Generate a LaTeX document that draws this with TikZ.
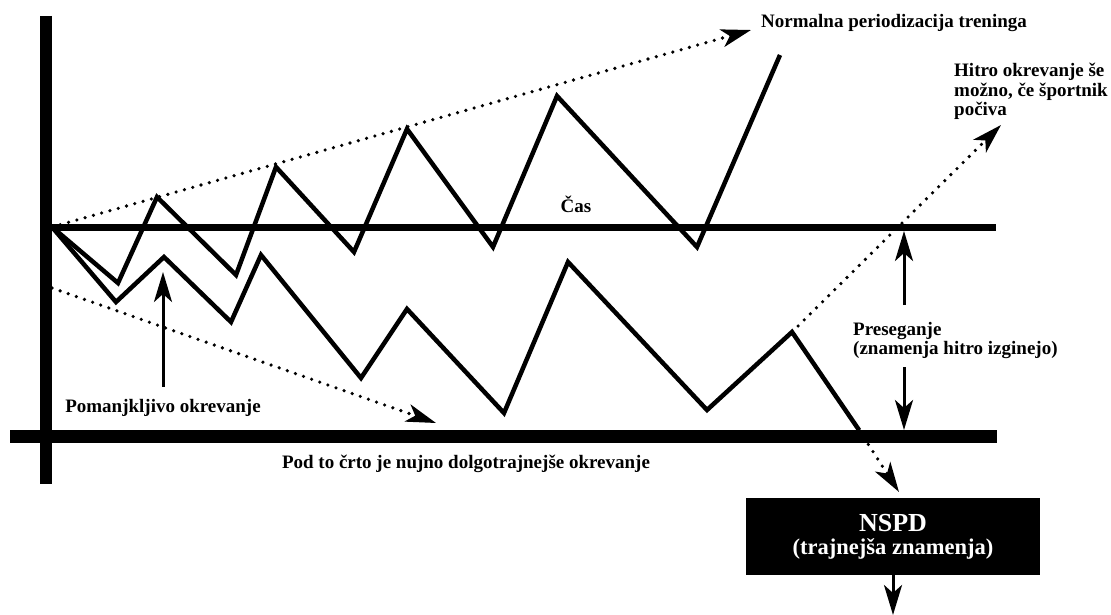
\documentclass[tikz,border=0pt]{standalone}
\usepackage{fontspec}
\setmainfont{Liberation Serif}
\usetikzlibrary{arrows.meta}

\begin{document}
\begin{tikzpicture}[x=1pt,y=-1pt,
        txt/.style={font=\bfseries\fontsize{19}{19.5}\selectfont,inner sep=0pt},
        zig/.style={line width=4.5pt},
        dots/.style={line width=3.6pt,line cap=round,dash pattern=on 0pt off 8.6pt},
        tip/.style={-{Stealth[length=30pt,width=18pt,inset=8pt]}},
        shaft/.style={line width=3pt,tip}]

    \useasboundingbox (0,0) rectangle (1111,615);

    \coordinate (o) at (52,227);
    \coordinate (o2) at (52,288);
    \coordinate (nrm) at (751,30);
    \coordinate (low) at (436,423);
    \coordinate (p) at (792,332);
    \coordinate (q) at (859,430);
    \coordinate (rest) at (1001,125);
    \coordinate (down) at (899,492);
    \coordinate (cu) at (904,231);
    \coordinate (cl) at (904,430);
    \coordinate (pb) at (163,272);
    \coordinate (end) at (893,615);

    \draw[line width=12pt] (46,16) -- (46,484);
    \draw[line width=7pt] (o) -- (996,227);
    \draw[line width=13pt] (10,436.5) -- (997,436.5);

    \draw[zig] (o) -- (118,283) -- (157,197) -- (236,275) -- (276,167) -- (354,252)
        -- (407,129) -- (493,247) -- (557,96) -- (697,247) -- (780,55);
    \draw[zig] (o) -- (116,302) -- (164,257) -- (231,322) -- (261,255) -- (361,378)
        -- (407,309) -- (504,413) -- (568,262) -- (707,410) -- (p) -- (q);

    \draw[dots,tip] (o) -- (nrm);
    \draw[dots,tip] (o2) -- (low);
    \draw[dots,tip] (p) -- (rest);
    \draw[dots,tip] (q) -- (down);

    \node[txt,anchor=base west] (normal) at (761,28) {Normalna periodizacija treninga};
    \node[txt,anchor=north west,align=left] (hitro) at (954,63) {Hitro okrevanje še\\možno, če športnik\\počiva};
    \node[txt,anchor=base] (cas) at (576,212) {Čas};
    \node[txt,anchor=north west,align=left] (prese) at (853,322) {Preseganje\\(znamenja hitro izginejo)};
    \node[txt,anchor=base] (pomanj) at (163,412) {Pomanjkljivo okrevanje};
    \node[txt,anchor=base] (pod) at (466,468) {Pod to črto je nujno dolgotrajnejše okrevanje};
    \node[fill=black,text=white,minimum width=294pt,minimum height=77pt,inner sep=0pt,align=center,
        font=\bfseries\fontsize{22.5}{23}\selectfont] (nspd) at (893,536.5)
        {{\fontsize{26}{26}\selectfont NSPD}\\(trajnejša znamenja)};

    \draw[shaft,shorten <=12pt] (pomanj.north) -- (pb);
    \draw[shaft,shorten <=17pt] (cu |- prese.north) -- (cu);
    \draw[shaft,shorten <=8pt] (cl |- prese.south) -- (cl);
    \draw[shaft] (nspd.south) -- (end);
\end{tikzpicture}
\end{document}
